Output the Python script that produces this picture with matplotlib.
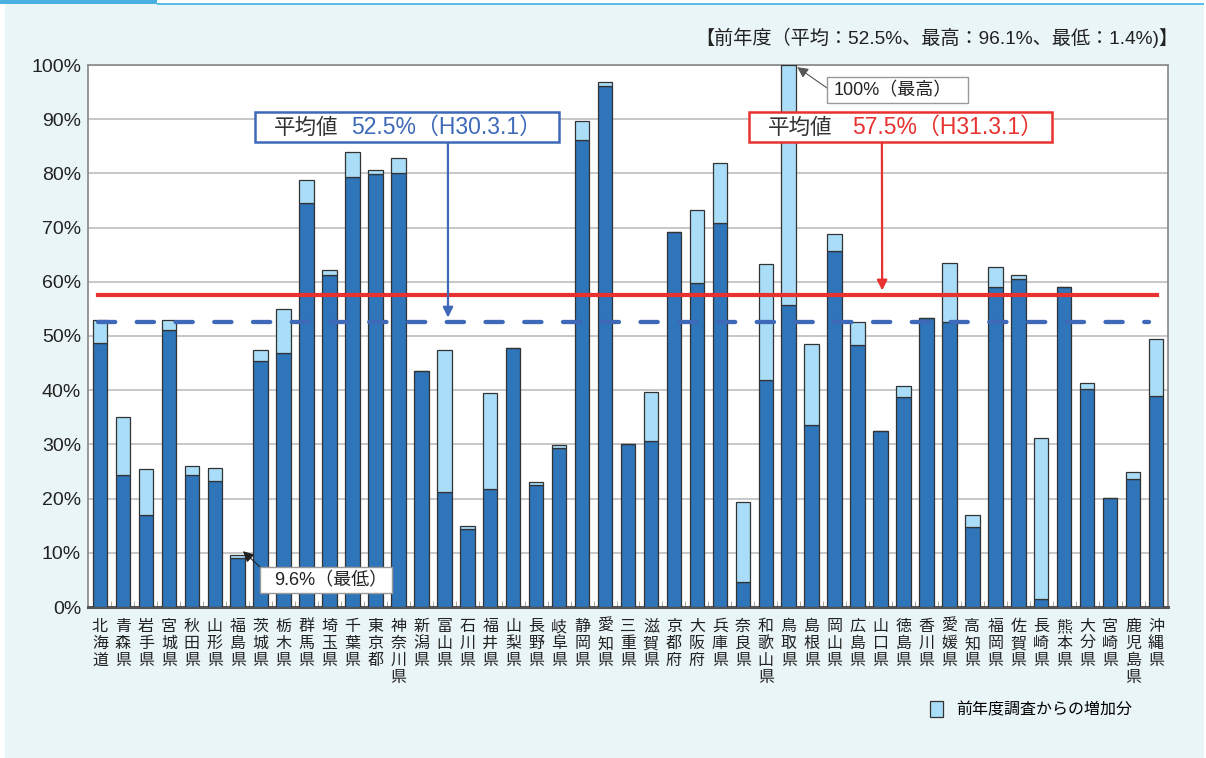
import matplotlib
matplotlib.use("Agg")
import matplotlib.pyplot as plt
from matplotlib.patches import Rectangle

plt.rcParams["font.family"] = ["Noto Sans CJK JP", "DejaVu Sans"]
NUMFONT = ["Liberation Sans", "Noto Sans CJK JP"]

# 都道府県と率（%）: 前年度値 と 今年度値
prefs = [
    "北海道", "青森県", "岩手県", "宮城県", "秋田県", "山形県", "福島県",
    "茨城県", "栃木県", "群馬県", "埼玉県", "千葉県", "東京都", "神奈川県",
    "新潟県", "富山県", "石川県", "福井県", "山梨県", "長野県", "岐阜県",
    "静岡県", "愛知県", "三重県", "滋賀県", "京都府", "大阪府", "兵庫県",
    "奈良県", "和歌山県", "鳥取県", "島根県", "岡山県", "広島県", "山口県",
    "徳島県", "香川県", "愛媛県", "高知県", "福岡県", "佐賀県", "長崎県",
    "熊本県", "大分県", "宮崎県", "鹿児島県", "沖縄県",
]
prev_year = [
    48.7, 24.4, 16.9, 51.1, 24.3, 23.3, 9.0,
    45.4, 46.9, 74.5, 61.2, 79.3, 79.8, 80.0,
    43.5, 21.3, 14.4, 21.8, 47.7, 22.6, 29.4,
    86.1, 96.1, 30.0, 30.6, 69.2, 59.8, 70.8,
    4.7, 41.9, 55.8, 33.6, 65.6, 48.3, 32.4,
    38.7, 53.4, 52.6, 14.7, 59.1, 60.5, 1.4,
    59.1, 40.3, 20.1, 23.7, 39.0,
]
this_year = [
    52.9, 35.0, 25.4, 52.9, 26.0, 25.6, 9.6,
    47.5, 55.0, 78.7, 62.1, 83.9, 80.7, 82.9,
    43.5, 47.5, 14.9, 39.4, 47.7, 23.1, 29.9,
    89.6, 96.9, 30.0, 39.7, 69.2, 73.2, 81.9,
    19.4, 63.2, 100.0, 48.5, 68.9, 52.5, 32.4,
    40.8, 53.4, 63.4, 17.0, 62.8, 61.3, 31.2,
    59.1, 41.3, 20.1, 25.0, 49.4,
]
increase = [t - p for t, p in zip(this_year, prev_year)]
avg_prev = 52.5
avg_now = 57.5

DARK = "#2E75BA"
LIGHT = "#AADDF7"
BG = "#E9F5F6"
BLUE = "#3D69B8"
RED = "#E8322F"
W, H = 1206, 758


def fp(x, y):
    # ピクセル位置（左上原点）を figure 座標へ
    return (x / W, 1 - y / H)


fig = plt.figure(figsize=(W / 100, H / 100), dpi=100, facecolor="white")

# 背景パネルと上部の帯
fig.patches.append(Rectangle((5 / W, 0), 1199 / W, 754 / H, transform=fig.transFigure,
                             facecolor=BG, edgecolor="none", zorder=-2))
fig.patches.append(Rectangle((0, 754 / H), 157 / W, 4 / H, transform=fig.transFigure,
                             facecolor="#4AB0E2", edgecolor="none", zorder=-1))
fig.patches.append(Rectangle((157 / W, 753.5 / H), 1047 / W, 1.8 / H, transform=fig.transFigure,
                             facecolor="#5BBDEB", edgecolor="none", zorder=-1))

ax = fig.add_axes([88 / W, 151 / H, 1080 / W, 542 / H])
ax.set_facecolor("white")

x = range(len(prefs))
ax.bar(x, prev_year, width=0.63, color=DARK, edgecolor="#333333", linewidth=0.9, zorder=3)
ax.bar(x, increase, width=0.63, bottom=prev_year, color=LIGHT, edgecolor="#333333",
       linewidth=0.9, zorder=3, label="前年度調査からの増加分")

ax.set_xlim(-0.52, len(prefs) - 0.48)
ax.set_ylim(0, 100)
ax.set_yticks(range(0, 101, 10))
ax.set_yticklabels([f"{v}%" for v in range(0, 101, 10)], fontsize=14, color="#222222",
                   family=NUMFONT)
ax.yaxis.grid(True, color="#BDBDBD", linewidth=1.2, zorder=1)
ax.set_axisbelow(True)
ax.tick_params(axis="y", length=0, pad=5)

ax.set_xticks(list(x))
ax.set_xticklabels(["\n".join(p) for p in prefs], fontsize=11.5, color="#222222",
                   linespacing=1.0, va="top")
ax.tick_params(axis="x", length=0, pad=8)
ax.set_xticks([i + 0.5 for i in range(len(prefs) - 1)], minor=True)
ax.tick_params(axis="x", which="minor", direction="in", length=4, color="#999999")

for side in ["left", "top", "right"]:
    ax.spines[side].set_color("#888888")
    ax.spines[side].set_linewidth(1.2)
ax.spines["bottom"].set_color("#555555")
ax.spines["bottom"].set_linewidth(2.2)

# 平均線
ax.plot([-0.09, 45.7], [avg_prev, avg_prev], color=BLUE, linewidth=3.1,
        dashes=(4.0, 5.0), dash_capstyle="round", zorder=4)
ax.plot([-0.09, 46.05], [avg_now, avg_now], color=RED, linewidth=3.0, zorder=4)


def box(x0, y0, x1, y1, edge, lw):
    xa, ya = fp(x0, y1)
    fig.add_artist(Rectangle((xa, ya), (x1 - x0) / W, (y1 - y0) / H, transform=fig.transFigure,
                             facecolor="white", edgecolor=edge, linewidth=lw, zorder=5))


# 平均値の注記
for (bx0, bx1, num_x, arrow_x, avg, col, num) in [
    (255, 559, 351, 15.16, avg_prev, BLUE, "52.5%（H30.3.1）"),
    (749, 1052, 852, 34.07, avg_now, RED, "57.5%（H31.3.1）"),
]:
    box(bx0, 112, bx1, 142, col, 1.8)
    fig.text(*fp(bx0 + 19, 127.5), "平均値", fontsize=15.5, color="#333333",
             va="center", ha="left", zorder=6)
    fig.text(*fp(num_x, 127.5), num, fontsize=16.5, color=col,
             va="center", ha="left", family=NUMFONT, zorder=6)
    ax.annotate("", xy=(arrow_x, avg + 0.9), xycoords="data",
                xytext=fp(arrow_x * 22.95 + 100, 142), textcoords="figure fraction",
                arrowprops=dict(arrowstyle="-|>", color=col, lw=1.6, mutation_scale=15,
                                shrinkA=0, shrinkB=0), zorder=4)

# 最高・最低
box(827, 77, 968, 103, "#999999", 1.0)
fig.text(*fp(834, 90.5), "100%（最高）", fontsize=13, color="#222222", va="center", ha="left",
         family=NUMFONT, zorder=6)
ax.annotate("", xy=(30.37, 99.6), xycoords="data", xytext=fp(827, 88), textcoords="figure fraction",
            arrowprops=dict(arrowstyle="-|>", color="#555555", lw=0.8, mutation_scale=16,
                            shrinkA=0, shrinkB=0), zorder=6)
box(260, 567, 392, 593, "#999999", 1.0)
fig.text(*fp(274, 580.5), "9.6%（最低）", fontsize=13, color="#222222", va="center", ha="left",
         family=NUMFONT, zorder=6)
ax.annotate("", xy=(6.23, 10.3), xycoords="data", xytext=fp(260, 567), textcoords="figure fraction",
            arrowprops=dict(arrowstyle="-|>", color="#222222", lw=0.8, mutation_scale=16,
                            shrinkA=0, shrinkB=0), zorder=6)

fig.text(*fp(1178, 38), "【前年度（平均：52.5%、最高：96.1%、最低：1.4%)】",
         fontsize=13.8, color="#222222", ha="right", va="center", family=NUMFONT)

ax.legend(loc="center right", bbox_to_anchor=fp(1132, 710), bbox_transform=fig.transFigure,
          frameon=False, fontsize=11.5, handlelength=0.8, handleheight=1.15, handletextpad=0.8,
          borderpad=0, borderaxespad=0)

fig.savefig("out.png", dpi=100, facecolor=fig.get_facecolor())
